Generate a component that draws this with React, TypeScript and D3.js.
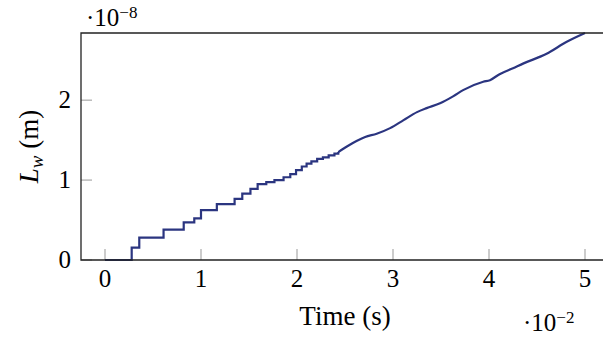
import * as d3 from "d3";

const width = 603;
const height = 337;

// stepped part of L_w (×1e-8 m) against time (×1e-2 s)
const stepTimes = [0, 0.278, 0.357, 0.61, 0.82, 0.93, 1.0, 1.165, 1.35, 1.43, 1.515, 1.59, 1.68, 1.765, 1.86, 1.93, 1.99, 2.05, 2.1, 2.15, 2.21, 2.27, 2.33, 2.39];
const stepValues = [0, 0.154, 0.28, 0.38, 0.47, 0.52, 0.625, 0.7, 0.765, 0.83, 0.89, 0.95, 0.975, 1.0, 1.035, 1.075, 1.125, 1.17, 1.205, 1.235, 1.265, 1.285, 1.31, 1.33];

// smoother tail
const smoothTimes = [2.43, 2.52, 2.62, 2.71, 2.83, 2.97, 3.11, 3.25, 3.35, 3.49, 3.63, 3.73, 3.94, 4.01, 4.11, 4.25, 4.36, 4.6, 4.81, 5.0];
const smoothValues = [1.35, 1.42, 1.49, 1.54, 1.58, 1.65, 1.75, 1.85, 1.9, 1.96, 2.05, 2.125, 2.23, 2.25, 2.325, 2.4, 2.46, 2.58, 2.73, 2.84];

const xTicks = [0, 1, 2, 3, 4, 5];
const yTicks = [0, 1, 2];

const font = "'Liberation Serif', 'DejaVu Serif', serif";
const lineColor = "#2b3580";

export default function App() {
  const left = 81;
  const top = 33;
  const bottom = 260;

  const x = d3.scaleLinear().domain([-0.25, 5.25]).range([left, left + 5.5 * 96]);
  const y = d3.scaleLinear().domain([0, 2.84]).range([bottom, top]);

  const steps: [number, number][] = stepTimes.map((t, i) => [t, stepValues[i]]);
  steps.push([smoothTimes[0], smoothValues[0]]);
  const smooth: [number, number][] = smoothTimes.map((t, i) => [t, smoothValues[i]]);

  const stepLine = d3
    .line<[number, number]>()
    .x((d) => x(d[0]))
    .y((d) => y(d[1]))
    .curve(d3.curveStepAfter);
  const smoothLine = d3
    .line<[number, number]>()
    .x((d) => x(d[0]))
    .y((d) => y(d[1]))
    .curve(d3.curveMonotoneX);

  const right = x.range()[1];

  return (
    <div style={{ position: "fixed", left: 0, top: 0 }}>
      <svg width={width} height={height} style={{ display: "block", background: "#fff" }}>
        {/* ticks */}
        {xTicks.map((t) => (
          <line key={"xt" + t} x1={x(t)} x2={x(t)} y1={bottom} y2={bottom - 11} stroke="#999" strokeWidth={1} />
        ))}
        {yTicks.map((t) => (
          <line key={"yt" + t} x1={left} x2={left + 11} y1={y(t)} y2={y(t)} stroke="#999" strokeWidth={1} />
        ))}

        {/* data */}
        <path d={stepLine(steps) ?? ""} fill="none" stroke={lineColor} strokeWidth={2.2} />
        <path d={smoothLine(smooth) ?? ""} fill="none" stroke={lineColor} strokeWidth={2.2} />

        {/* frame */}
        <path
          d={`M${right},${top}H${left}V${bottom}H${right}`}
          fill="none"
          stroke="#222"
          strokeWidth={1.3}
        />

        {/* tick labels */}
        {xTicks.map((t) => (
          <text key={"xl" + t} x={x(t)} y={287} textAnchor="middle" fontFamily={font} fontSize={25}>
            {t}
          </text>
        ))}
        {yTicks.map((t) => (
          <text key={"yl" + t} x={71} y={y(t) + 8} textAnchor="end" fontFamily={font} fontSize={25}>
            {t}
          </text>
        ))}

        {/* multipliers */}
        <text x={86} y={26} fontFamily={font} fontSize={25}>
          ·10
          <tspan dy={-8} fontSize={17}>−8</tspan>
        </text>
        <text x={523} y={331} fontFamily={font} fontSize={25}>
          ·10
          <tspan dy={-8} fontSize={17}>−2</tspan>
        </text>

        {/* axis labels */}
        <text x={345} y={325} textAnchor="middle" fontFamily={font} fontSize={27}>
          Time (s)
        </text>
        <text
          transform={`translate(38,${(top + bottom) / 2}) rotate(-90)`}
          textAnchor="middle"
          fontFamily={font}
          fontSize={27}
        >
          <tspan fontStyle="italic">L</tspan>
          <tspan fontStyle="italic" fontSize={19} dy={5}>w</tspan>
          <tspan dy={-5}> (m)</tspan>
        </text>
      </svg>
    </div>
  );
}
